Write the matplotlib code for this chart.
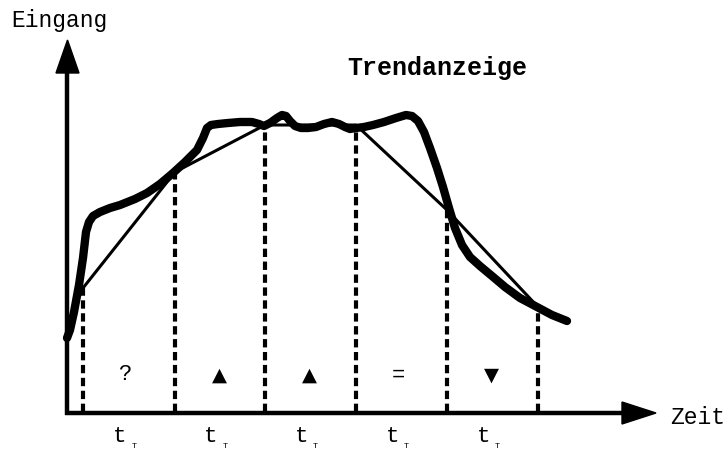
import numpy as np
import matplotlib
matplotlib.use("Agg")
import matplotlib.pyplot as plt

# Messkurve (Pixelraster des Originals, y nach unten)
kurve_x = [67, 70, 74, 79, 83, 86, 89, 93, 100, 110, 120, 135, 147, 160, 173, 185, 197, 203,
           207, 211, 218, 228, 240, 252, 259, 264, 270, 277, 282, 286, 290, 295, 301, 308, 316,
           324, 332, 339, 345, 350, 356, 364, 373, 384, 396, 406, 412, 418, 424, 430, 437, 443,
           449, 455, 462, 470, 480, 492, 505, 520, 537, 552, 567]
kurve_y = [338, 330, 312, 285, 258, 232, 222, 216, 212, 208, 205, 199, 193, 184, 173, 162, 150,
           138, 128, 125, 124, 123, 122, 122, 124, 126, 123, 118, 115, 116, 121, 126, 128, 128,
           127, 124, 122, 124, 127, 129, 128, 127, 125, 122, 118, 115, 116, 121, 132, 148, 168,
           187, 208, 228, 245, 257, 266, 276, 287, 298, 307, 315, 321]

# Abtastzeitpunkte und Abtastwerte
abtast_x = [83, 175, 265, 356, 447, 538]
abtast_y = [288, 172, 125, 125, 210, 307]

# Trendanzeige je Intervall
trend_symbole = ["?", "\u25B2", "\u25B2", "=", "\u25BC"]
intervall_label = "t"

plt.rcParams['font.family'] = ['Liberation Mono', 'DejaVu Sans']

fig = plt.figure(figsize=(7.25, 4.53), dpi=100)
ax = fig.add_axes([0, 0, 1, 1])
ax.set_xlim(0, 725)
ax.set_ylim(453, 0)
ax.axis("off")

# Achsen mit Pfeilen
ax.plot([67, 67], [415, 70], color="black", lw=3.2, solid_capstyle="butt")
ax.fill([56, 79, 67.5], [73, 73, 40], color="black")
ax.plot([65, 625], [413, 413], color="black", lw=3.2, solid_capstyle="butt")
ax.fill([622, 622, 656], [402, 424, 413], color="black")

# gestrichelte Abtastlinien
for x, y in zip(abtast_x, abtast_y):
    ax.plot([x, x], [412, y], color="black", lw=3.0, ls=(0, (2.0, 1.1)))

# Messkurve
ax.plot(kurve_x, kurve_y, color="black", lw=6.0, solid_joinstyle="round",
        solid_capstyle="round")

# Trendgeraden
ax.plot(abtast_x, abtast_y, color="black", lw=2.2, solid_joinstyle="round")

# Symbole und Zeitintervalle
for i, s in enumerate(trend_symbole):
    xm = (abtast_x[i] + abtast_x[i + 1]) / 2 + 1
    if s in ("?", "="):
        ax.text(xm - 4, 375, s, ha="center", va="center", fontsize=16,
                fontweight="light")
    else:
        ax.text(xm - 2, 375, s, ha="center", va="center", fontsize=14,
                family="DejaVu Sans")
    ax.text(xm - 10, 437, intervall_label, ha="center", va="center", fontsize=16)
    ax.text(xm + 4, 446, "T", ha="center", va="center", fontsize=6)

ax.text(11, 21, "Eingang", ha="left", va="center", fontsize=16.5)
ax.text(670, 418, "Zeit", ha="left", va="center", fontsize=16.5)
ax.text(437, 68, "Trendanzeige", ha="center", va="center", fontsize=18,
        fontweight="bold")

fig.savefig("out.png", dpi=100)
